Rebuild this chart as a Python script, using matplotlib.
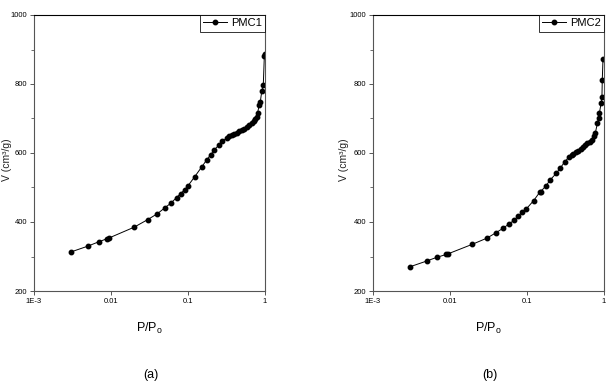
import matplotlib
matplotlib.use("Agg")
import matplotlib.pyplot as plt
from matplotlib.ticker import FixedLocator, FixedFormatter, NullLocator

# PMC1 isotherm
p1 = [0.003, 0.005, 0.007, 0.009, 0.0095, 0.020, 0.030, 0.040, 0.050, 0.061, 0.071,
      0.080, 0.091, 0.100, 0.122, 0.150, 0.175, 0.197, 0.219, 0.25, 0.28, 0.32,
      0.345, 0.37, 0.40, 0.43, 0.46, 0.50, 0.54, 0.58, 0.62, 0.67, 0.71, 0.74,
      0.78, 0.80, 0.84, 0.87, 0.91, 0.95, 0.98, 0.99]
v1 = [313, 330, 343, 352, 354, 385, 407, 424, 441, 456, 471,
      482, 494, 505, 531, 559, 580, 595, 609, 622, 634, 644,
      648, 652, 655, 659, 663, 667, 671, 676, 680, 686, 692, 698,
      705, 715, 739, 749, 781, 797, 880, 888]

# PMC2 isotherm
p2 = [0.003, 0.005, 0.0068, 0.009, 0.0095, 0.0193, 0.030, 0.039, 0.049, 0.059, 0.068,
      0.077, 0.087, 0.098, 0.122, 0.146, 0.150, 0.177, 0.20, 0.24, 0.27, 0.31,
      0.35, 0.38, 0.40, 0.43, 0.46, 0.50, 0.53, 0.57, 0.61, 0.65, 0.70, 0.74,
      0.77, 0.82, 0.85, 0.87, 0.92, 0.94, 0.95, 0.97]
v2 = [270, 287, 298, 306, 308, 335, 353, 368, 382, 395, 405,
      417, 428, 438, 462, 486, 488, 505, 522, 541, 556, 575,
      588, 593, 597, 602, 607, 612, 617, 622, 628, 633, 638, 648,
      657, 686, 700, 715, 746, 761, 812, 872]

series = [("PMC1", p1, v1, "(a)"), ("PMC2", p2, v2, "(b)")]

xticks = [0.001, 0.01, 0.1, 1]
xticklabels = ["1E-3", "0.01", "0.1", "1"]
yticks = [200, 400, 600, 800, 1000]
yminor = [300, 500, 700, 900]

narrow = ["Liberation Sans Narrow", "Liberation Sans", "DejaVu Sans"]
sans = ["Liberation Sans", "DejaVu Sans"]

fig = plt.figure(figsize=(6.09, 3.87), dpi=100)
W, H = 609, 387
boxes = [(34, 15, 265, 291), (373, 15, 604, 291)]
label_x = [7, 344]
spine_col = "#555555"

for (name, px, vy, tag), (x0, y0, x1, y1), lx in zip(series, boxes, label_x):
    ax = fig.add_axes([x0 / W, 1 - y1 / H, (x1 - x0) / W, (y1 - y0) / H])
    ax.plot(px, vy, "-o", color="black", lw=0.7, ms=3.2, label=name)
    ax.set_xscale("log")
    ax.set_xlim(0.001, 1)
    ax.set_ylim(200, 1000)
    ax.xaxis.set_major_locator(FixedLocator(xticks))
    ax.xaxis.set_major_formatter(FixedFormatter(xticklabels))
    ax.xaxis.set_minor_locator(NullLocator())
    ax.yaxis.set_major_locator(FixedLocator(yticks))
    ax.yaxis.set_minor_locator(FixedLocator(yminor))
    ax.tick_params(which="major", direction="out", length=3, width=0.7, color=spine_col,
                   labelsize=5.5, top=False, right=False, pad=2)
    ax.tick_params(which="minor", direction="out", length=2, width=0.6, color=spine_col,
                   top=False, right=False)
    for lab in ax.get_xticklabels() + ax.get_yticklabels():
        lab.set_family(narrow)
    for s in ax.spines.values():
        s.set_linewidth(0.8)
        s.set_color(spine_col)
    ax.spines["top"].set_color("black")
    leg = ax.legend(loc="upper right", borderaxespad=0, frameon=True, fancybox=False,
                    handlelength=2.2, handletextpad=0.3, borderpad=0.3,
                    prop={"family": narrow, "size": 8})
    leg.get_frame().set_edgecolor("black")
    leg.get_frame().set_linewidth(0.7)
    cx = (x0 + x1) / 2
    fig.text(lx / W, 1 - 160 / H, "V (cm\u00b3/g)", rotation=90, ha="center", va="center",
             fontsize=7.5, family=sans, color="#222222")
    fig.text(cx / W, 1 - 328 / H, "P/P$_{\\mathregular{o}}$", ha="center", va="center",
             fontsize=9, family=narrow)
    fig.text((cx + 1) / W, 1 - 375 / H, tag, ha="center", va="center",
             fontsize=9, family=sans)

fig.savefig("out.png", dpi=100)
